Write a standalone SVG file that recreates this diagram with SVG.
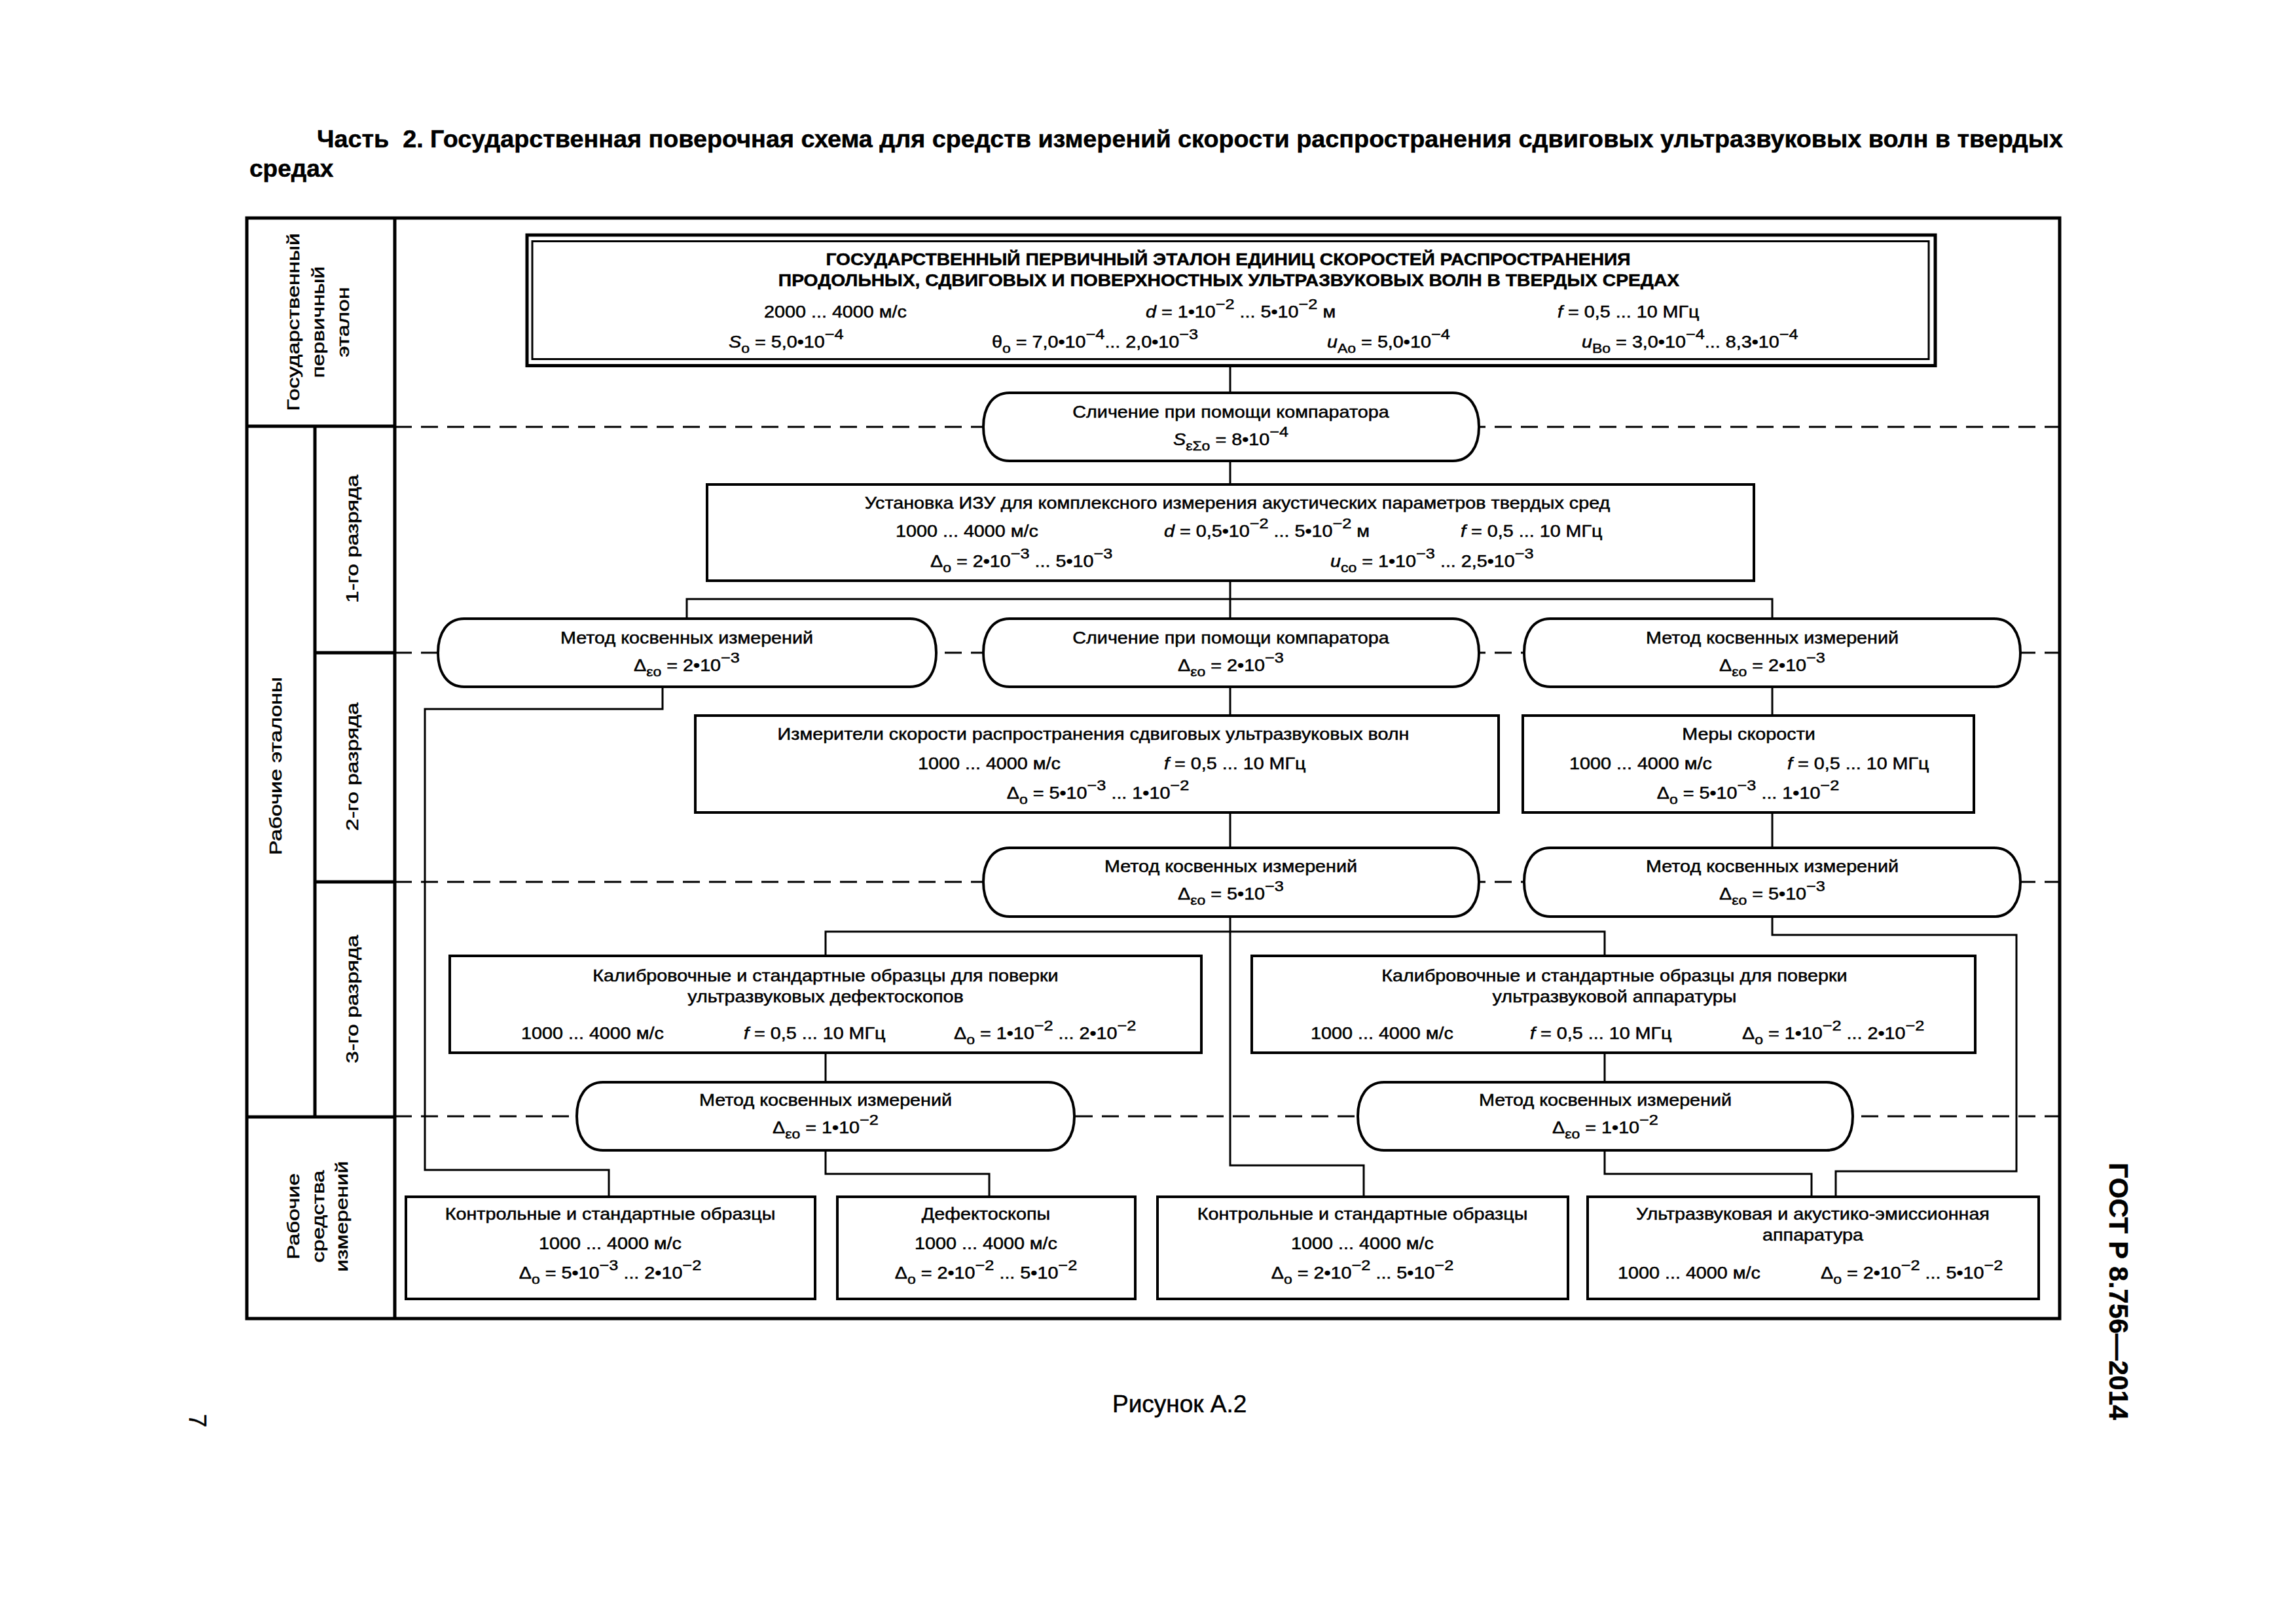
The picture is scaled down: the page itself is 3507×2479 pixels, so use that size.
<svg xmlns="http://www.w3.org/2000/svg" width="3507" height="2479" viewBox="0 0 3507 2479">
<style>
text{font-family:"Liberation Sans",Arial,sans-serif;font-size:25px;fill:#000;stroke:#000;stroke-width:0.5}
.b{font-weight:bold}
.i{font-style:italic}
.sb{font-size:20px}
.sp{font-size:22px}
.box{fill:#fff;stroke:#000;stroke-width:4}
.conn path{fill:none;stroke:#000;stroke-width:3}
.dash{stroke:#000;stroke-width:3;stroke-dasharray:26 14;fill:none}
.frame{fill:none;stroke:#000;stroke-width:5}
.div{stroke:#000;stroke-width:5;fill:none}
</style>
<rect x="0" y="0" width="3507" height="2479" fill="#fff"/>

<g id="title">
<text class="b" style="font-size:37px" x="484" y="225" textLength="2667" lengthAdjust="spacingAndGlyphs" xml:space="preserve">Часть  2. Государственная поверочная схема для средств измерений скорости распространения сдвиговых ультразвуковых волн в твердых</text>
<text class="b" style="font-size:37px" x="381" y="270">средах</text>
</g>

<g id="grid">
<rect class="frame" x="377" y="333" width="2769" height="1681"/>
<path class="div" d="M603 333 V2014 M377 651 H603 M481 651 V1706 M481 997 H603 M481 1347 H603 M377 1706 H603"/>
<path class="dash" d="M603 652 H3146 M603 997 H3146 M603 1347 H3146 M603 1705 H3146"/>
</g>

<g id="labels">
<text text-anchor="middle" transform="translate(457 492) rotate(-90) scale(1.34 1)">Государственный</text>
<text text-anchor="middle" transform="translate(495 492) rotate(-90) scale(1.34 1)">первичный</text>
<text text-anchor="middle" transform="translate(533 492) rotate(-90) scale(1.34 1)">эталон</text>
<text text-anchor="middle" transform="translate(430 1170) rotate(-90) scale(1.34 1)">Рабочие эталоны</text>
<text text-anchor="middle" transform="translate(547 823) rotate(-90) scale(1.34 1)">1-го разряда</text>
<text text-anchor="middle" transform="translate(547 1171) rotate(-90) scale(1.34 1)">2-го разряда</text>
<text text-anchor="middle" transform="translate(547 1526) rotate(-90) scale(1.34 1)">3-го разряда</text>
<text text-anchor="middle" transform="translate(457 1858) rotate(-90) scale(1.34 1)">Рабочие</text>
<text text-anchor="middle" transform="translate(495 1858) rotate(-90) scale(1.34 1)">средства</text>
<text text-anchor="middle" transform="translate(531 1858) rotate(-90) scale(1.34 1)">измерений</text>
</g>

<g id="connectors" class="conn">
<path d="M1879 558 V600"/>
<path d="M1879 704 V740"/>
<path d="M1879 887 V945"/>
<path d="M1049 945 V915 H2707 V945"/>
<path d="M1879 1049 V1093"/>
<path d="M2707 1049 V1093"/>
<path d="M1012 1049 V1083 H649 V1787 H930 V1828"/>
<path d="M1879 1241 V1295"/>
<path d="M2707 1241 V1295"/>
<path d="M1879 1400 V1780 H2083 V1828"/>
<path d="M1261 1460 V1423 H2451 V1460"/>
<path d="M2707 1400 V1428 H3080 V1789 H2804 V1828"/>
<path d="M1261 1608 V1653"/>
<path d="M2451 1608 V1653"/>
<path d="M1261 1757 V1793 H1511 V1828"/>
<path d="M2451 1757 V1793 H2767 V1828"/>
</g>

<g id="primary">
<rect x="805" y="359" width="2151" height="199.5" fill="#fff" stroke="#000" stroke-width="5"/>
<rect x="813" y="368.5" width="2133" height="180" fill="none" stroke="#000" stroke-width="3"/>
<text class="b" text-anchor="middle" transform="matrix(1.13 0 0 1 1876 405)">ГОСУДАРСТВЕННЫЙ ПЕРВИЧНЫЙ ЭТАЛОН ЕДИНИЦ СКОРОСТЕЙ РАСПРОСТРАНЕНИЯ</text>
<text class="b" text-anchor="middle" transform="matrix(1.13 0 0 1 1877 437)">ПРОДОЛЬНЫХ, СДВИГОВЫХ И ПОВЕРХНОСТНЫХ УЛЬТРАЗВУКОВЫХ ВОЛН В ТВЕРДЫХ СРЕДАХ</text>
<text transform="matrix(1.15 0 0 1 1167 485)">2000 ... 4000 м/с</text>
<text transform="matrix(1.15 0 0 1 1750 485)"><tspan class="i">d</tspan> = 1•10<tspan class="sp" dy="-13">−2</tspan><tspan dy="13"> ... 5•10</tspan><tspan class="sp" dy="-13">−2</tspan><tspan dy="13"> м</tspan></text>
<text transform="matrix(1.15 0 0 1 2379 485)"><tspan class="i">f</tspan> = 0,5 ... 10 МГц</text>
<text transform="matrix(1.15 0 0 1 1113 531)"><tspan class="i">S</tspan><tspan class="sb" dy="8">o</tspan><tspan dy="-8"> = 5,0•10</tspan><tspan class="sp" dy="-13">−4</tspan></text>
<text transform="matrix(1.15 0 0 1 1515 531)">θ<tspan class="sb" dy="8">o</tspan><tspan dy="-8"> = 7,0•10</tspan><tspan class="sp" dy="-13">−4</tspan><tspan dy="13">... 2,0•10</tspan><tspan class="sp" dy="-13">−3</tspan></text>
<text transform="matrix(1.15 0 0 1 2027 531)"><tspan class="i">u</tspan><tspan class="sb" dy="8">Ao</tspan><tspan dy="-8"> = 5,0•10</tspan><tspan class="sp" dy="-13">−4</tspan></text>
<text transform="matrix(1.15 0 0 1 2416 531)"><tspan class="i">u</tspan><tspan class="sb" dy="8">Bo</tspan><tspan dy="-8"> = 3,0•10</tspan><tspan class="sp" dy="-13">−4</tspan><tspan dy="13">... 8,3•10</tspan><tspan class="sp" dy="-13">−4</tspan></text>
</g>

<g id="cmp1">
<path class="box" d="M1542 600 H2219 C2245 600 2259 622 2259 652 C2259 682 2245 704 2219 704 H1542 C1516 704 1502 682 1502 652 C1502 622 1516 600 1542 600 Z"/>
<text text-anchor="middle" transform="matrix(1.15 0 0 1 1880 638)">Сличение при помощи компаратора</text>
<text text-anchor="middle" transform="matrix(1.15 0 0 1 1880 680)"><tspan class="i">S</tspan><tspan class="sb" dy="8">εΣo</tspan><tspan dy="-8"> = 8•10</tspan><tspan class="sp" dy="-13">−4</tspan></text>
</g>

<g id="izu">
<rect class="box" x="1080" y="740" width="1599" height="147"/>
<text text-anchor="middle" transform="matrix(1.15 0 0 1 1890 777)">Установка ИЗУ для комплексного измерения акустических параметров твердых сред</text>
<text transform="matrix(1.15 0 0 1 1368 820)">1000 ... 4000 м/с</text>
<text transform="matrix(1.15 0 0 1 1778 820)"><tspan class="i">d</tspan> = 0,5•10<tspan class="sp" dy="-13">−2</tspan><tspan dy="13"> ... 5•10</tspan><tspan class="sp" dy="-13">−2</tspan><tspan dy="13"> м</tspan></text>
<text transform="matrix(1.15 0 0 1 2231 820)"><tspan class="i">f</tspan> = 0,5 ... 10 МГц</text>
<text transform="matrix(1.15 0 0 1 1421 866)">Δ<tspan class="sb" dy="8">o</tspan><tspan dy="-8"> = 2•10</tspan><tspan class="sp" dy="-13">−3</tspan><tspan dy="13"> ... 5•10</tspan><tspan class="sp" dy="-13">−3</tspan></text>
<text transform="matrix(1.15 0 0 1 2032 866)"><tspan class="i">u</tspan><tspan class="sb" dy="8">co</tspan><tspan dy="-8"> = 1•10</tspan><tspan class="sp" dy="-13">−3</tspan><tspan dy="13"> ... 2,5•10</tspan><tspan class="sp" dy="-13">−3</tspan></text>
</g>

<g id="m2l">
<path class="box" d="M709 945 H1390 C1416 945 1430 967 1430 997 C1430 1027 1416 1049 1390 1049 H709 C683 1049 669 1027 669 997 C669 967 683 945 709 945 Z"/>
<text text-anchor="middle" transform="matrix(1.15 0 0 1 1049 983)">Метод косвенных измерений</text>
<text text-anchor="middle" transform="matrix(1.15 0 0 1 1049 1025)">Δ<tspan class="sb" dy="8">εo</tspan><tspan dy="-8"> = 2•10</tspan><tspan class="sp" dy="-13">−3</tspan></text>
</g>

<g id="cmp2">
<path class="box" d="M1542 945 H2219 C2245 945 2259 967 2259 997 C2259 1027 2245 1049 2219 1049 H1542 C1516 1049 1502 1027 1502 997 C1502 967 1516 945 1542 945 Z"/>
<text text-anchor="middle" transform="matrix(1.15 0 0 1 1880 983)">Сличение при помощи компаратора</text>
<text text-anchor="middle" transform="matrix(1.15 0 0 1 1880 1025)">Δ<tspan class="sb" dy="8">εo</tspan><tspan dy="-8"> = 2•10</tspan><tspan class="sp" dy="-13">−3</tspan></text>
</g>

<g id="m2r">
<path class="box" d="M2368 945 H3046 C3072 945 3086 967 3086 997 C3086 1027 3072 1049 3046 1049 H2368 C2342 1049 2328 1027 2328 997 C2328 967 2342 945 2368 945 Z"/>
<text text-anchor="middle" transform="matrix(1.15 0 0 1 2707 983)">Метод косвенных измерений</text>
<text text-anchor="middle" transform="matrix(1.15 0 0 1 2707 1025)">Δ<tspan class="sb" dy="8">εo</tspan><tspan dy="-8"> = 2•10</tspan><tspan class="sp" dy="-13">−3</tspan></text>
</g>

<g id="meters">
<rect class="box" x="1062" y="1093" width="1227" height="148"/>
<text text-anchor="middle" transform="matrix(1.15 0 0 1 1670 1130)">Измерители скорости распространения сдвиговых ультразвуковых волн</text>
<text transform="matrix(1.15 0 0 1 1402 1175)">1000 ... 4000 м/с</text>
<text transform="matrix(1.15 0 0 1 1778 1175)"><tspan class="i">f</tspan> = 0,5 ... 10 МГц</text>
<text text-anchor="middle" transform="matrix(1.15 0 0 1 1677 1220)">Δ<tspan class="sb" dy="8">o</tspan><tspan dy="-8"> = 5•10</tspan><tspan class="sp" dy="-13">−3</tspan><tspan dy="13"> ... 1•10</tspan><tspan class="sp" dy="-13">−2</tspan></text>
</g>

<g id="measures">
<rect class="box" x="2326" y="1093" width="689" height="148"/>
<text text-anchor="middle" transform="matrix(1.15 0 0 1 2671 1130)">Меры скорости</text>
<text transform="matrix(1.15 0 0 1 2397 1175)">1000 ... 4000 м/с</text>
<text transform="matrix(1.15 0 0 1 2730 1175)"><tspan class="i">f</tspan> = 0,5 ... 10 МГц</text>
<text text-anchor="middle" transform="matrix(1.15 0 0 1 2670 1220)">Δ<tspan class="sb" dy="8">o</tspan><tspan dy="-8"> = 5•10</tspan><tspan class="sp" dy="-13">−3</tspan><tspan dy="13"> ... 1•10</tspan><tspan class="sp" dy="-13">−2</tspan></text>
</g>

<g id="m3m">
<path class="box" d="M1542 1295 H2219 C2245 1295 2259 1317 2259 1347 C2259 1377 2245 1400 2219 1400 H1542 C1516 1400 1502 1377 1502 1347 C1502 1317 1516 1295 1542 1295 Z"/>
<text text-anchor="middle" transform="matrix(1.15 0 0 1 1880 1332)">Метод косвенных измерений</text>
<text text-anchor="middle" transform="matrix(1.15 0 0 1 1880 1374)">Δ<tspan class="sb" dy="8">εo</tspan><tspan dy="-8"> = 5•10</tspan><tspan class="sp" dy="-13">−3</tspan></text>
</g>

<g id="m3r">
<path class="box" d="M2368 1295 H3046 C3072 1295 3086 1317 3086 1347 C3086 1377 3072 1400 3046 1400 H2368 C2342 1400 2328 1377 2328 1347 C2328 1317 2342 1295 2368 1295 Z"/>
<text text-anchor="middle" transform="matrix(1.15 0 0 1 2707 1332)">Метод косвенных измерений</text>
<text text-anchor="middle" transform="matrix(1.15 0 0 1 2707 1374)">Δ<tspan class="sb" dy="8">εo</tspan><tspan dy="-8"> = 5•10</tspan><tspan class="sp" dy="-13">−3</tspan></text>
</g>

<g id="calib1">
<rect class="box" x="687" y="1460" width="1148" height="148"/>
<text text-anchor="middle" transform="matrix(1.15 0 0 1 1261 1499)">Калибровочные и стандартные образцы для поверки</text>
<text text-anchor="middle" transform="matrix(1.15 0 0 1 1261 1531)">ультразвуковых дефектоскопов</text>
<text transform="matrix(1.15 0 0 1 796 1587)">1000 ... 4000 м/с</text>
<text transform="matrix(1.15 0 0 1 1136 1587)"><tspan class="i">f</tspan> = 0,5 ... 10 МГц</text>
<text transform="matrix(1.15 0 0 1 1457 1587)">Δ<tspan class="sb" dy="8">o</tspan><tspan dy="-8"> = 1•10</tspan><tspan class="sp" dy="-13">−2</tspan><tspan dy="13"> ... 2•10</tspan><tspan class="sp" dy="-13">−2</tspan></text>
</g>

<g id="calib2">
<rect class="box" x="1912" y="1460" width="1105" height="148"/>
<text text-anchor="middle" transform="matrix(1.15 0 0 1 2466 1499)">Калибровочные и стандартные образцы для поверки</text>
<text text-anchor="middle" transform="matrix(1.15 0 0 1 2466 1531)">ультразвуковой аппаратуры</text>
<text transform="matrix(1.15 0 0 1 2002 1587)">1000 ... 4000 м/с</text>
<text transform="matrix(1.15 0 0 1 2337 1587)"><tspan class="i">f</tspan> = 0,5 ... 10 МГц</text>
<text transform="matrix(1.15 0 0 1 2661 1587)">Δ<tspan class="sb" dy="8">o</tspan><tspan dy="-8"> = 1•10</tspan><tspan class="sp" dy="-13">−2</tspan><tspan dy="13"> ... 2•10</tspan><tspan class="sp" dy="-13">−2</tspan></text>
</g>

<g id="m4l">
<path class="box" d="M921 1653 H1601 C1627 1653 1641 1675 1641 1705 C1641 1735 1627 1757 1601 1757 H921 C895 1757 881 1735 881 1705 C881 1675 895 1653 921 1653 Z"/>
<text text-anchor="middle" transform="matrix(1.15 0 0 1 1261 1689)">Метод косвенных измерений</text>
<text text-anchor="middle" transform="matrix(1.15 0 0 1 1261 1731)">Δ<tspan class="sb" dy="8">εo</tspan><tspan dy="-8"> = 1•10</tspan><tspan class="sp" dy="-13">−2</tspan></text>
</g>

<g id="m4r">
<path class="box" d="M2114 1653 H2790 C2816 1653 2830 1675 2830 1705 C2830 1735 2816 1757 2790 1757 H2114 C2088 1757 2074 1735 2074 1705 C2074 1675 2088 1653 2114 1653 Z"/>
<text text-anchor="middle" transform="matrix(1.15 0 0 1 2452 1689)">Метод косвенных измерений</text>
<text text-anchor="middle" transform="matrix(1.15 0 0 1 2452 1731)">Δ<tspan class="sb" dy="8">εo</tspan><tspan dy="-8"> = 1•10</tspan><tspan class="sp" dy="-13">−2</tspan></text>
</g>

<g id="ctrl1">
<rect class="box" x="620" y="1828" width="625" height="156"/>
<text text-anchor="middle" transform="matrix(1.15 0 0 1 932 1863)">Контрольные и стандартные образцы</text>
<text text-anchor="middle" transform="matrix(1.15 0 0 1 932 1908)">1000 ... 4000 м/с</text>
<text text-anchor="middle" transform="matrix(1.15 0 0 1 932 1953)">Δ<tspan class="sb" dy="8">o</tspan><tspan dy="-8"> = 5•10</tspan><tspan class="sp" dy="-13">−3</tspan><tspan dy="13"> ... 2•10</tspan><tspan class="sp" dy="-13">−2</tspan></text>
</g>

<g id="flaw">
<rect class="box" x="1279" y="1828" width="455" height="156"/>
<text text-anchor="middle" transform="matrix(1.15 0 0 1 1506 1863)">Дефектоскопы</text>
<text text-anchor="middle" transform="matrix(1.15 0 0 1 1506 1908)">1000 ... 4000 м/с</text>
<text text-anchor="middle" transform="matrix(1.15 0 0 1 1506 1953)">Δ<tspan class="sb" dy="8">o</tspan><tspan dy="-8"> = 2•10</tspan><tspan class="sp" dy="-13">−2</tspan><tspan dy="13"> ... 5•10</tspan><tspan class="sp" dy="-13">−2</tspan></text>
</g>

<g id="ctrl2">
<rect class="box" x="1768" y="1828" width="627" height="156"/>
<text text-anchor="middle" transform="matrix(1.15 0 0 1 2081 1863)">Контрольные и стандартные образцы</text>
<text text-anchor="middle" transform="matrix(1.15 0 0 1 2081 1908)">1000 ... 4000 м/с</text>
<text text-anchor="middle" transform="matrix(1.15 0 0 1 2081 1953)">Δ<tspan class="sb" dy="8">o</tspan><tspan dy="-8"> = 2•10</tspan><tspan class="sp" dy="-13">−2</tspan><tspan dy="13"> ... 5•10</tspan><tspan class="sp" dy="-13">−2</tspan></text>
</g>

<g id="ultra">
<rect class="box" x="2425" y="1828" width="689" height="156"/>
<text text-anchor="middle" transform="matrix(1.15 0 0 1 2769 1863)">Ультразвуковая и акустико-эмиссионная</text>
<text text-anchor="middle" transform="matrix(1.15 0 0 1 2769 1895)">аппаратура</text>
<text transform="matrix(1.15 0 0 1 2471 1953)">1000 ... 4000 м/с</text>
<text transform="matrix(1.15 0 0 1 2781 1953)">Δ<tspan class="sb" dy="8">o</tspan><tspan dy="-8"> = 2•10</tspan><tspan class="sp" dy="-13">−2</tspan><tspan dy="13"> ... 5•10</tspan><tspan class="sp" dy="-13">−2</tspan></text>
</g>

<g id="footer">
<text style="font-size:37px" x="1699" y="2157">Рисунок А.2</text>
<text class="b" style="font-size:41px" transform="translate(3222 1776) rotate(90)">ГОСТ Р 8.756—2014</text>
<text style="font-size:36px" transform="translate(289 2160) rotate(90)">7</text>
</g>
</svg>
